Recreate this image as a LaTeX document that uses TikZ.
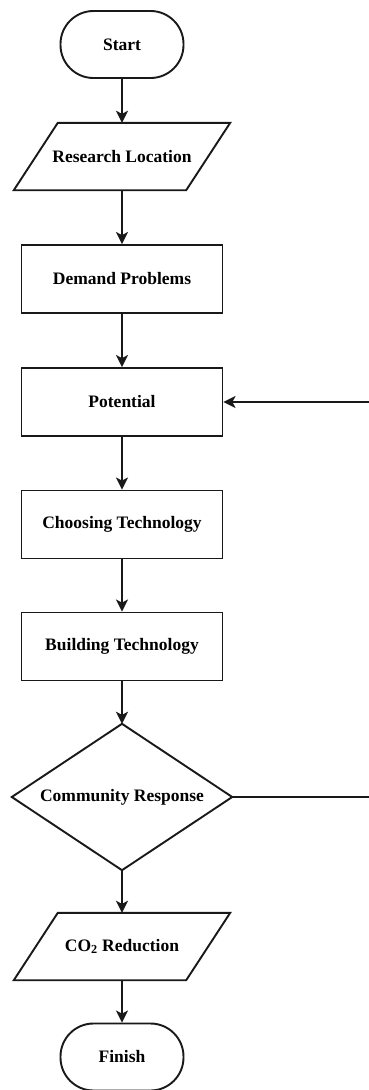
\documentclass[tikz,border=0pt]{standalone}
\usepackage{fontspec}
\setmainfont{Liberation Serif}
\usetikzlibrary{arrows.meta}
\begin{document}
\begin{tikzpicture}[x=1pt,y=-1pt,
  every node/.style={font=\fontsize{17.5}{20}\selectfont\bfseries, inner sep=0pt},
  lineA/.style={line width=1.9pt, draw=black!90},
  arr/.style={lineA, -{Stealth[length=12pt,width=12pt,inset=3pt]}},
  term/.style={draw, lineA, rectangle, rounded corners=33pt, minimum width=123pt, minimum height=67pt},
  procbox/.style={draw, lineA, rectangle, minimum width=201pt, minimum height=68pt},
  parabase/.style={minimum width=172pt, minimum height=67pt},
  diabase/.style={minimum width=220pt, minimum height=146pt}
]
\useasboundingbox[fill=white] (0,0) rectangle (369,1090);

\node[term] (start) at (122,44.5) {Start};
\node[parabase] (rl) at (122,156.5) {Research Location};
\draw[lineA, line join=miter] ([xshift=22pt]rl.north west) -- ([xshift=22pt]rl.north east) -- ([xshift=-22pt]rl.south east) -- ([xshift=-22pt]rl.south west) -- cycle;
\node[procbox] (dp) at (122,279) {Demand Problems};
\node[procbox] (pot) at (122,402) {Potential};
\node[procbox] (ct) at (122,524.5) {Choosing Technology};
\node[procbox] (bt) at (122,646.5) {Building Technology};
\node[diabase] (cr) at (122,797) {Community Response};
\draw[lineA, line join=miter] (cr.north) -- (cr.east) -- (cr.south) -- (cr.west) -- cycle;
\node[parabase] (co) at (122,946.5) {CO\textsubscript{2} Reduction};
\draw[lineA, line join=miter] ([xshift=22pt]co.north west) -- ([xshift=22pt]co.north east) -- ([xshift=-22pt]co.south east) -- ([xshift=-22pt]co.south west) -- cycle;
\node[term] (fin) at (122,1057) {Finish};

\coordinate (inR) at (369,402);
\coordinate (outR) at (369,797);

\draw[arr] (start.south) -- (rl.north);
\draw[arr] (rl.south) -- (dp.north);
\draw[arr] (dp.south) -- (pot.north);
\draw[arr] (pot.south) -- (ct.north);
\draw[arr] (ct.south) -- (bt.north);
\draw[arr] (bt.south) -- (cr.north);
\draw[arr] (cr.south) -- (co.north);
\draw[arr] (co.south) -- (fin.north);
\draw[arr] (inR) -- (pot.east);
\draw[lineA] (cr.east) -- (outR);
\end{tikzpicture}
\end{document}
